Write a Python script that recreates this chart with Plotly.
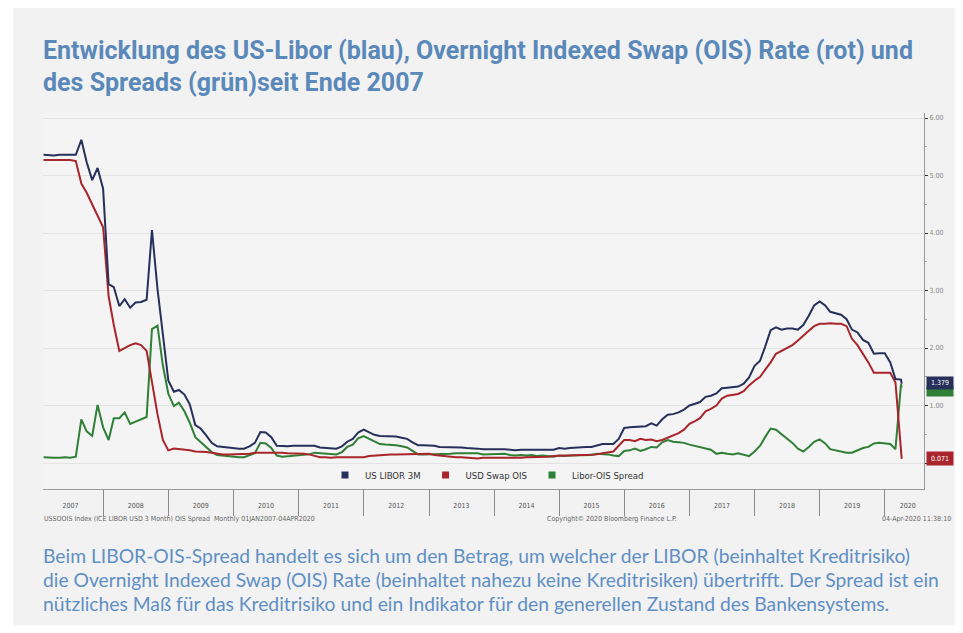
import pandas as pd
import plotly.graph_objects as go

# ---------------- data (monthly, Bloomberg) ----------------
libor_3m = [
    5.36, 5.35, 5.35, 5.36, 5.36, 5.36, 5.36, 5.62, 5.23, 4.92, 5.13, 4.77,   # 2007
    3.11, 3.06, 2.73, 2.85, 2.70, 2.79, 2.80, 2.84, 4.05, 3.03, 2.22, 1.43,   # 2008
    1.24, 1.27, 1.19, 1.02, 0.66, 0.60, 0.48, 0.35, 0.29, 0.28, 0.26, 0.25,   # 2009
    0.25, 0.25, 0.29, 0.35, 0.54, 0.53, 0.45, 0.30, 0.29, 0.29, 0.30, 0.30,   # 2010
    0.30, 0.31, 0.30, 0.27, 0.26, 0.25, 0.25, 0.29, 0.37, 0.42, 0.53, 0.58,   # 2011
    0.54, 0.49, 0.47, 0.47, 0.47, 0.46, 0.44, 0.42, 0.36, 0.31, 0.31, 0.31,   # 2012
    0.30, 0.28, 0.28, 0.27, 0.27, 0.27, 0.26, 0.26, 0.25, 0.24, 0.24, 0.25,   # 2013
    0.24, 0.24, 0.23, 0.22, 0.23, 0.23, 0.24, 0.23, 0.24, 0.23, 0.23, 0.26,   # 2014
    0.25, 0.26, 0.27, 0.28, 0.28, 0.28, 0.31, 0.33, 0.33, 0.33, 0.42, 0.61,   # 2015
    0.62, 0.63, 0.63, 0.64, 0.69, 0.65, 0.76, 0.84, 0.85, 0.88, 0.93, 1.00,   # 2016
    1.03, 1.06, 1.15, 1.17, 1.21, 1.30, 1.31, 1.32, 1.33, 1.38, 1.49, 1.69,   # 2017
    1.78, 2.02, 2.31, 2.36, 2.32, 2.34, 2.34, 2.32, 2.40, 2.56, 2.74, 2.81,   # 2018
    2.74, 2.63, 2.60, 2.58, 2.50, 2.32, 2.27, 2.14, 2.09, 1.90, 1.91, 1.91,   # 2019
    1.75, 1.46, 1.45, 1.379,                                                  # 2020
]
usd_swap_ois = [
    5.27, 5.27, 5.27, 5.27, 5.27, 5.27, 5.25, 4.86, 4.70, 4.50, 4.33, 4.10,
    2.90, 2.40, 1.95, 2.00, 2.05, 2.08, 2.05, 1.95, 1.40, 0.85, 0.40, 0.22,
    0.25, 0.24, 0.24, 0.22, 0.20, 0.20, 0.19, 0.18, 0.16, 0.15, 0.15, 0.15,
    0.15, 0.15, 0.16, 0.18, 0.18, 0.19, 0.19, 0.18, 0.18, 0.17, 0.17, 0.17,
    0.16, 0.15, 0.12, 0.10, 0.10, 0.09, 0.10, 0.10, 0.09, 0.10, 0.10, 0.10,
    0.12, 0.13, 0.14, 0.15, 0.15, 0.15, 0.15, 0.15, 0.15, 0.16, 0.16, 0.16,
    0.14, 0.13, 0.12, 0.11, 0.10, 0.10, 0.09, 0.09, 0.08, 0.09, 0.09, 0.09,
    0.08, 0.08, 0.09, 0.09, 0.09, 0.10, 0.10, 0.11, 0.11, 0.11, 0.12, 0.13,
    0.13, 0.13, 0.14, 0.14, 0.14, 0.14, 0.15, 0.17, 0.18, 0.20, 0.30, 0.40,
    0.40, 0.38, 0.42, 0.40, 0.41, 0.38, 0.40, 0.44, 0.48, 0.52, 0.58, 0.68,
    0.73, 0.78, 0.90, 0.94, 1.00, 1.12, 1.17, 1.18, 1.20, 1.25, 1.35, 1.43,
    1.50, 1.62, 1.75, 1.90, 1.95, 2.00, 2.05, 2.13, 2.22, 2.30, 2.38, 2.42,
    2.42, 2.43, 2.42, 2.42, 2.38, 2.16, 2.05, 1.90, 1.75, 1.57, 1.57, 1.57,
    1.57, 1.40, 0.08, 0.071,
]
libor_ois_spread = [
    0.10, 0.09, 0.09, 0.09, 0.10, 0.09, 0.11, 0.76, 0.55, 0.47, 1.01, 0.62,
    0.40, 0.78, 0.78, 0.88, 0.68, 0.72, 0.76, 0.80, 2.33, 2.39, 1.70, 1.20,
    0.99, 1.05, 0.90, 0.70, 0.45, 0.36, 0.28, 0.19, 0.14, 0.13, 0.11, 0.10,
    0.10, 0.10, 0.13, 0.17, 0.35, 0.34, 0.26, 0.13, 0.11, 0.12, 0.13, 0.13,
    0.14, 0.15, 0.18, 0.17, 0.16, 0.16, 0.15, 0.19, 0.28, 0.32, 0.43, 0.47,
    0.42, 0.37, 0.33, 0.32, 0.32, 0.31, 0.29, 0.27, 0.21, 0.15, 0.15, 0.15,
    0.16, 0.15, 0.16, 0.16, 0.17, 0.17, 0.17, 0.17, 0.17, 0.15, 0.15, 0.16,
    0.16, 0.16, 0.14, 0.13, 0.14, 0.13, 0.14, 0.12, 0.13, 0.12, 0.11, 0.13,
    0.12, 0.13, 0.13, 0.14, 0.14, 0.14, 0.16, 0.16, 0.15, 0.13, 0.12, 0.21,
    0.22, 0.25, 0.21, 0.24, 0.28, 0.27, 0.36, 0.40, 0.37, 0.36, 0.35, 0.32,
    0.30, 0.28, 0.25, 0.23, 0.16, 0.18, 0.16, 0.15, 0.17, 0.15, 0.12, 0.20,
    0.30, 0.45, 0.60, 0.58, 0.50, 0.42, 0.35, 0.25, 0.20, 0.28, 0.37, 0.41,
    0.34, 0.24, 0.22, 0.20, 0.18, 0.18, 0.22, 0.26, 0.28, 0.34, 0.35, 0.34,
    0.33, 0.24, 1.37, 1.31,
]
dates = list(pd.date_range("2007-01-31", "2020-03-31", freq="ME")) + [pd.Timestamp("2020-04-04")]

series_names = ["US LIBOR 3M", "USD Swap OIS", "Libor-OIS Spread"]
last_labels = ["1.379", "0.071"]
year_labels = [str(y) for y in range(2007, 2021)]
year_label_pos = [f"{y}-07-01" for y in range(2007, 2020)] + ["2020-05-08"]
year_starts = [f"{y}-01-01" for y in range(2008, 2021)]
y_ticks = [0, 1, 2, 3, 4, 5, 6]
y_ticktext = ["", "1.00", "2.00", "3.00", "4.00", "5.00", "6.00"]

title_lines = [
    "Entwicklung des US-Libor (blau), Overnight Indexed Swap (OIS) Rate (rot) und",
    "des Spreads (grün)seit Ende 2007",
]
caption_lines = [
    "Beim LIBOR-OIS-Spread handelt es sich um den Betrag, um welcher der LIBOR (beinhaltet Kreditrisiko)",
    "die Overnight Indexed Swap (OIS) Rate (beinhaltet nahezu keine Kreditrisiken) übertrifft. Der Spread ist ein",
    "nützliches Maß für das Kreditrisiko und ein Indikator für den generellen Zustand des Bankensystems.",
]
footer_left = "USSOOIS Index (ICE LIBOR USD 3 Month) OIS Spread  Monthly 01JAN2007-04APR2020"
footer_mid = "Copyright© 2020 Bloomberg Finance L.P."
footer_right = "04-Apr-2020 11:38:10"

# ---------------- layout geometry (page pixels; page body has an 8px margin) ----------------
OFF = 8
W, H = 963 - 2 * OFF, 633 - 2 * OFF
L, R, T, B = 43, 926, 113, 489          # plot area in page pixels
PW, PH = R - L, B - T


def px(x):
    return (x - L) / PW


def py(y):
    return (B - y) / PH


BLUE = "#26305a"
RED = "#a8252b"
GREEN = "#2f7f36"
TITLE_C = "#5a89b9"
CAP_C = "#5f8fc4"

fig = go.Figure()
for vals, col in [(libor_ois_spread, GREEN), (usd_swap_ois, RED), (libor_3m, BLUE)]:
    fig.add_trace(go.Scatter(x=dates, y=vals, mode="lines", line=dict(color=col, width=2),
                             showlegend=False, hoverinfo="skip"))
for name, col in zip(series_names, [BLUE, RED, GREEN]):
    fig.add_trace(go.Scatter(x=[None], y=[None], mode="markers", name=name,
                             marker=dict(symbol="square", size=7, color=col)))

annotations = []
for i, line in enumerate(title_lines):
    annotations.append(dict(text=f"<b>{line}</b>", x=px(41), y=py([51, 82][i]), xref="paper", yref="paper",
                            xanchor="left", yanchor="middle", showarrow=False,
                            font=dict(family="Roboto", size=25, color=TITLE_C)))
for i, line in enumerate(caption_lines):
    annotations.append(dict(text=line, x=px(41), y=py([555, 579, 603][i]), xref="paper", yref="paper",
                            xanchor="left", yanchor="middle", showarrow=False,
                            font=dict(family="Lato", size=19.3, color=CAP_C)))
foot_font = dict(family="DejaVu Sans Condensed", size=7, color="#666666")
annotations.append(dict(text=footer_left, x=px(42), y=py(519), xref="paper", yref="paper", xanchor="left",
                        yanchor="middle", showarrow=False, font=foot_font))
annotations.append(dict(text=footer_mid, x=px(546), y=py(519), xref="paper", yref="paper", xanchor="left",
                        yanchor="middle", showarrow=False, font=foot_font))
annotations.append(dict(text=footer_right, x=px(955), y=py(519), xref="paper", yref="paper", xanchor="right",
                        yanchor="middle", showarrow=False, font=foot_font))
# last value boxes
annotations.append(dict(text="&nbsp;", x=px(928), y=libor_ois_spread[-1] - 0.06, xref="paper", yref="y",
                        xanchor="left", yanchor="middle", showarrow=False, bgcolor=GREEN,
                        font=dict(size=6, color="white"), width=24, height=8))
annotations.append(dict(text=last_labels[0], x=px(928), y=libor_3m[-1] + 0.02, xref="paper", yref="y",
                        xanchor="left", yanchor="middle", showarrow=False, bgcolor=BLUE,
                        font=dict(family="DejaVu Sans Condensed", size=7, color="white"), width=24, height=10))
annotations.append(dict(text=last_labels[1], x=px(928), y=usd_swap_ois[-1], xref="paper", yref="y",
                        xanchor="left", yanchor="middle", showarrow=False, bgcolor=RED,
                        font=dict(family="DejaVu Sans Condensed", size=7, color="white"), width=24, height=11))

shapes = [
    dict(type="rect", xref="paper", yref="paper", x0=px(OFF), x1=px(13), y0=py(OFF), y1=py(H + OFF),
         fillcolor="white", line_width=0, layer="below"),
]

fig.update_layout(
    width=W, height=H,
    margin=dict(l=L - OFF, r=(W + OFF) - R, t=T - OFF, b=(H + OFF) - B, pad=0),
    paper_bgcolor="#f2f2f2", plot_bgcolor="#f4f4f4",
    showlegend=True,
    legend=dict(orientation="h", x=px(488), y=py(475), xanchor="center", yanchor="middle",
                bgcolor="rgba(0,0,0,0)", font=dict(family="DejaVu Sans Condensed", size=9.5, color="#333333"),
                itemwidth=30, tracegroupgap=0),
    annotations=annotations,
    shapes=shapes,
    xaxis=dict(
        type="date", range=["2007-01-28", "2020-08-07"],
        tickmode="array", tickvals=year_label_pos, ticktext=year_labels,
        ticks="", ticklabelstandoff=10,
        tickfont=dict(family="DejaVu Sans Condensed", size=7, color="#555555"),
        showgrid=False, showline=True, linecolor="#9a9a9a", linewidth=1, zeroline=False,
        minor=dict(tickmode="array", tickvals=year_starts, ticks="outside", ticklen=26,
                   tickcolor="#8a8a8a", tickwidth=1, showgrid=False),
    ),
    yaxis=dict(
        side="right", range=[-0.452, 6.087],
        tickmode="array", tickvals=y_ticks, ticktext=y_ticktext,
        ticks="outside", ticklen=3, tickcolor="#333333",
        tickfont=dict(family="DejaVu Sans Condensed", size=7, color="#888888"),
        showgrid=True, gridcolor="#e3e3e3", gridwidth=1,
        showline=True, linecolor="#9a9a9a", linewidth=1, zeroline=False,
        minor=dict(dtick=0.5, tick0=0, ticks="outside", ticklen=2, tickcolor="#aaaaaa", showgrid=False),
    ),
)

fig.write_html("out.html")
